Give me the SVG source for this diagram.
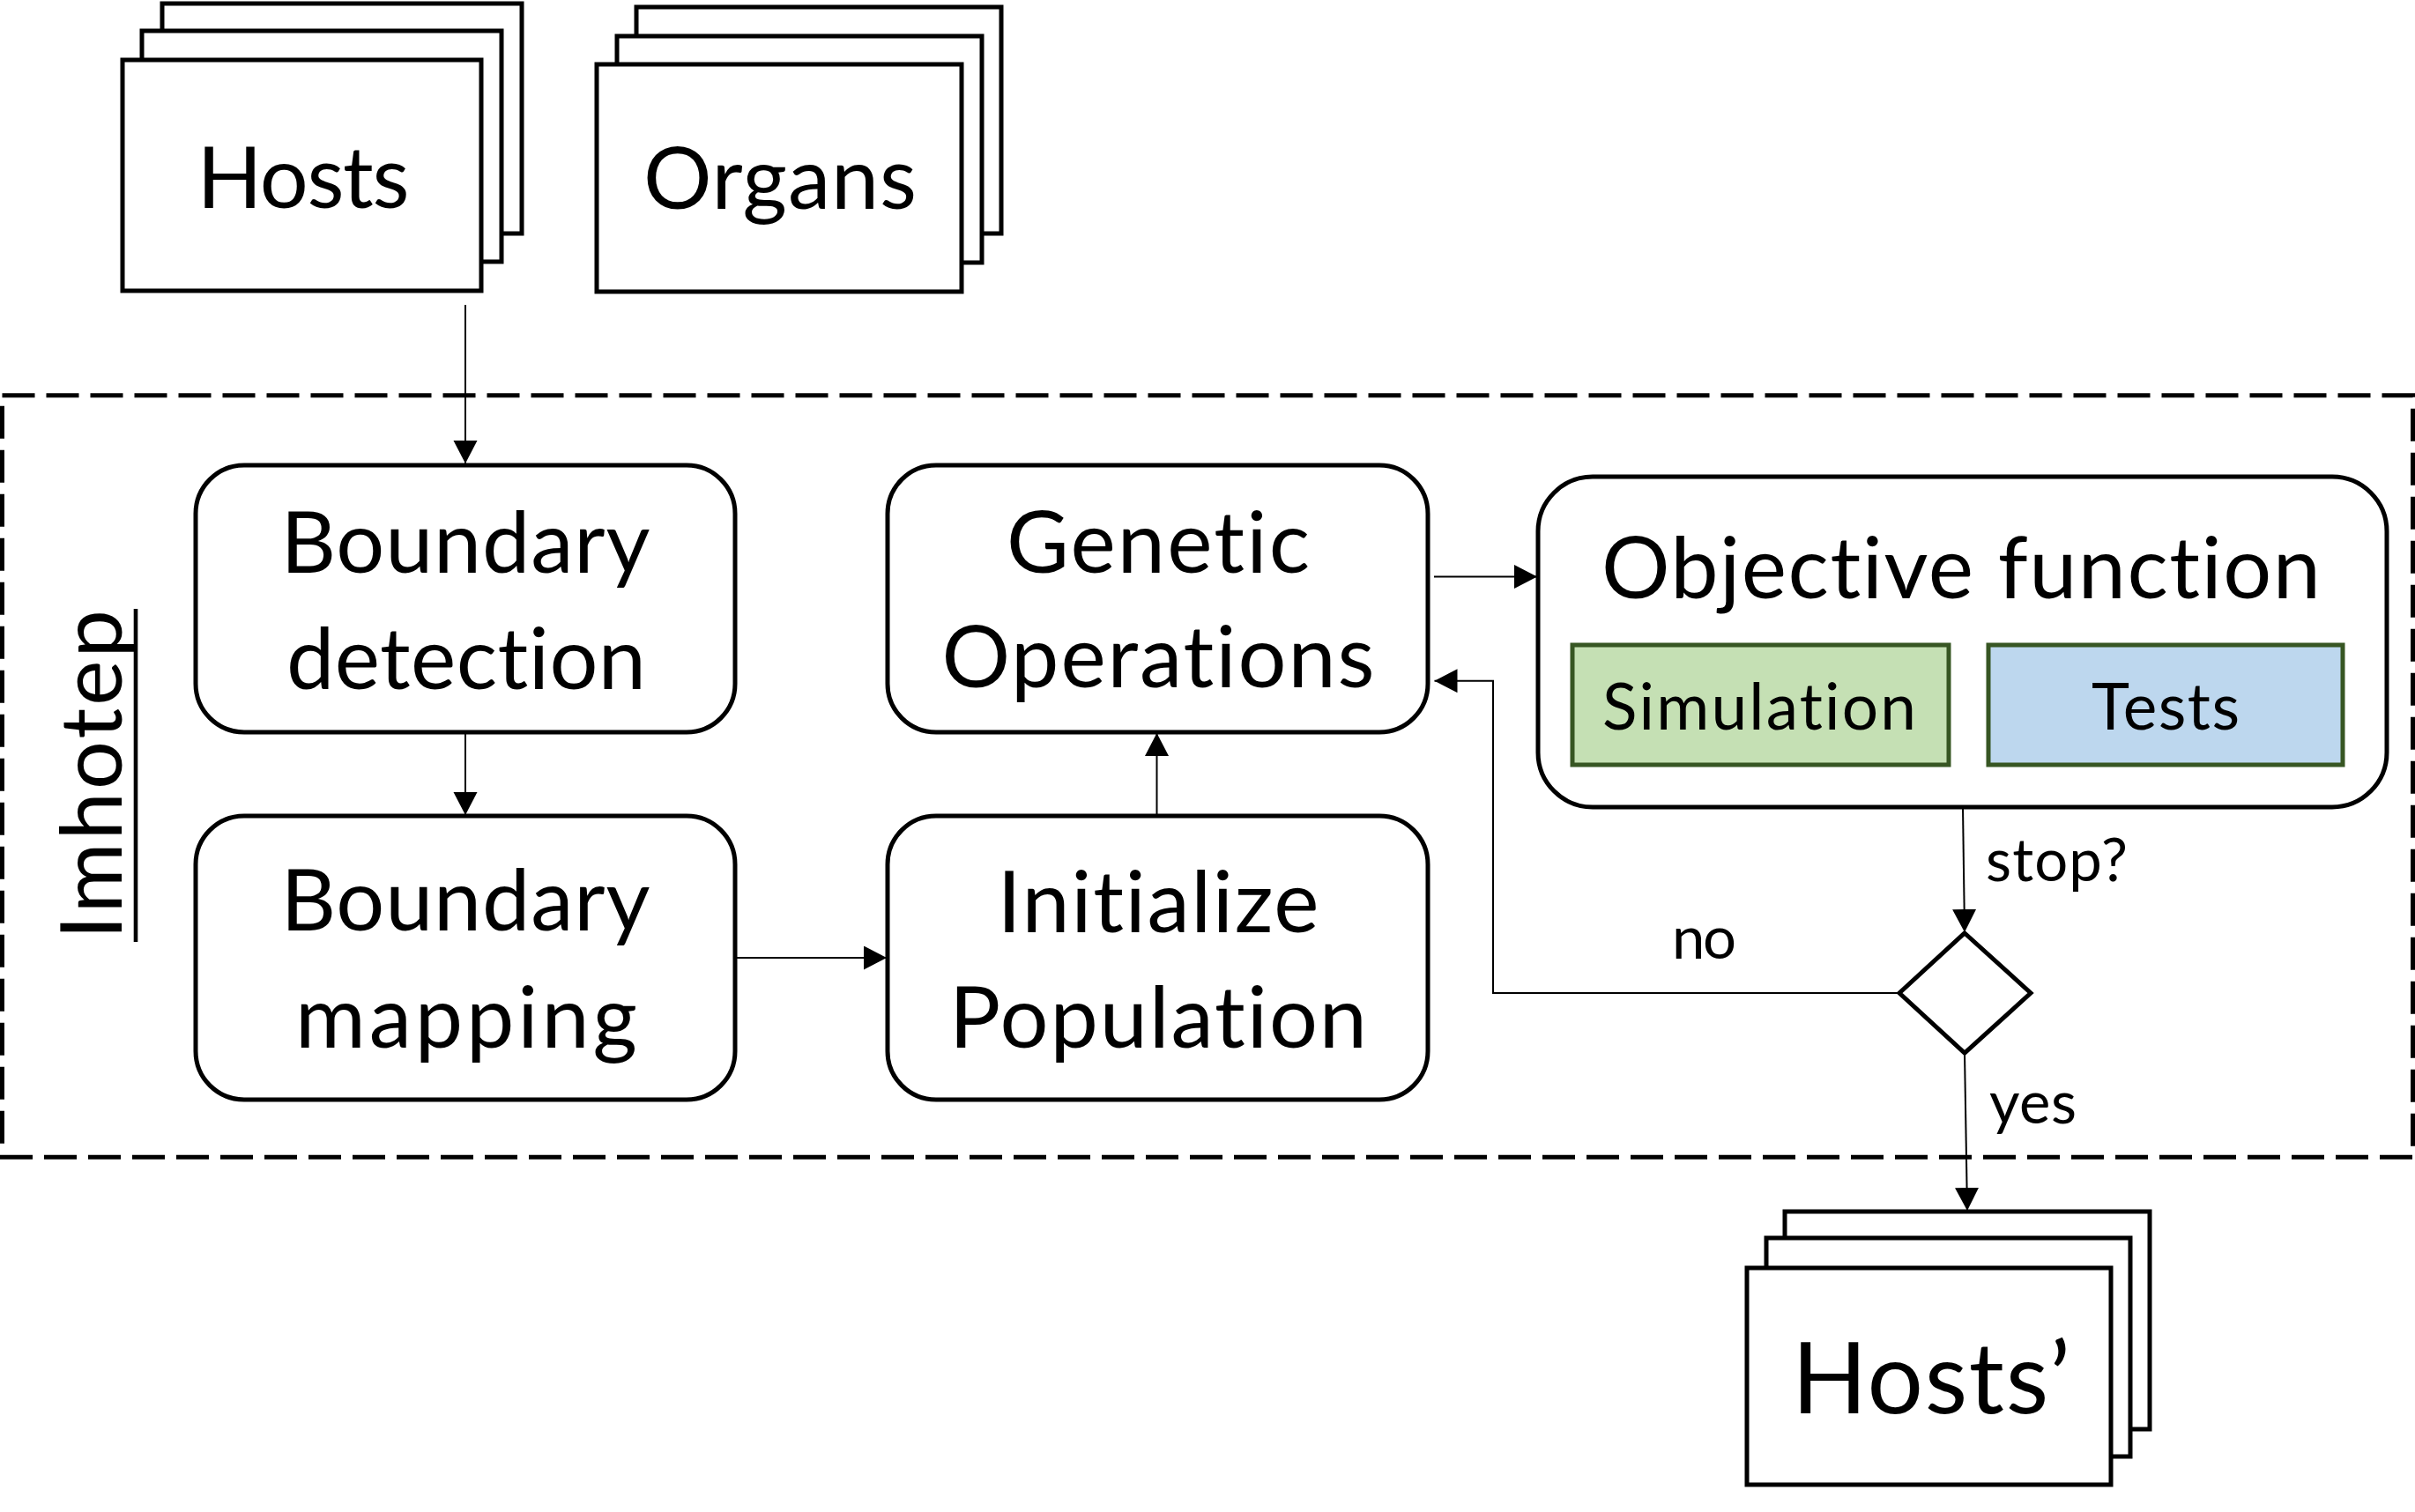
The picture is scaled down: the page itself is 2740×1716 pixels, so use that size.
<svg xmlns="http://www.w3.org/2000/svg" width="2740" height="1716" viewBox="0 0 2740 1716">
<style>
.bg{fill:#ffffff}
.doc{fill:#ffffff;stroke:#000;stroke-width:5}
.box{fill:#ffffff;stroke:#000;stroke-width:5}
.t{font-family:Lato,"Open Sans","Liberation Sans",sans-serif;fill:#000;text-anchor:middle;font-variant-ligatures:none;font-feature-settings:"liga" 0}
.big{font-size:97px}
.mid{font-size:73px}
.sm{font-size:67px}
.con{fill:none;stroke:#000;stroke-width:2}
.frame{fill:none;stroke:#000;stroke-width:5;stroke-dasharray:37 13}
.sim{fill:#C5E0B4;stroke:#375623;stroke-width:5}
.tst{fill:#BDD7EE;stroke:#375623;stroke-width:5}
</style>
<defs>
<marker id="arr" markerUnits="userSpaceOnUse" markerWidth="27" markerHeight="28" refX="26" refY="13.5" orient="auto">
<path d="M0,0 L26,13.5 L0,27 z" fill="#000"/>
</marker>
</defs>
<rect class="bg" x="0" y="0" width="2740" height="1716"/>

<g id="imhotep-frame">
<rect class="frame" x="2.5" y="448.7" width="2735" height="864.5"/>
<text class="t big" transform="translate(138,879) rotate(-90)" textLength="374">Imhotep</text>
<line x1="154" y1="691" x2="154" y2="1069" stroke="#000" stroke-width="4.6"/>
</g>

<g id="hosts">
<rect class="doc" x="184" y="4" width="408" height="261"/>
<rect class="doc" x="161" y="35" width="408" height="262"/>
<rect class="doc" x="139" y="68" width="407" height="262"/>
<text class="t big" x="344" y="236" textLength="241">Hosts</text>
</g>

<g id="organs">
<rect class="doc" x="722" y="8" width="414" height="257"/>
<rect class="doc" x="700" y="41" width="414" height="257"/>
<rect class="doc" x="677" y="73" width="414" height="258"/>
<text class="t big" x="885" y="237" textLength="310">Organs</text>
</g>

<g id="boundary-detection">
<rect class="box" x="222" y="528" width="612" height="303" rx="55" ry="55"/>
<text class="t big" x="528" y="649.5" textLength="419">Boundary</text>
<text class="t big" x="529" y="781.5" textLength="408">detection</text>
</g>

<g id="boundary-mapping">
<rect class="box" x="222" y="926" width="612" height="322" rx="55" ry="55"/>
<text class="t big" x="528" y="1056" textLength="419">Boundary</text>
<text class="t big" x="529" y="1189" textLength="388">mapping</text>
</g>

<g id="genetic-operations">
<rect class="box" x="1007" y="528" width="613" height="303" rx="55" ry="55"/>
<text class="t big" x="1314" y="650" textLength="344">Genetic</text>
<text class="t big" x="1314" y="780" textLength="491">Operations</text>
</g>

<g id="initialize-population">
<rect class="box" x="1007" y="926" width="613" height="322" rx="55" ry="55"/>
<text class="t big" x="1314" y="1058" textLength="365">Initialize</text>
<text class="t big" x="1314" y="1189" textLength="474">Population</text>
</g>

<g id="objective-function">
<rect class="box" x="1745" y="541" width="963" height="375" rx="62" ry="62"/>
<text class="t big" x="2225" y="679" textLength="816">Objective function</text>
<g id="simulation">
<rect class="sim" x="1784" y="732" width="427" height="136"/>
<text class="t mid" x="1996" y="828" textLength="356">Simulation</text>
</g>
<g id="tests">
<rect class="tst" x="2256" y="732" width="402" height="136"/>
<text class="t mid" x="2457" y="828" textLength="168">Tests</text>
</g>
</g>

<g id="stop-decision">
<polygon class="box" points="2229,1059 2304,1127 2229,1195 2155,1127"/>
</g>

<g id="hosts-out">
<rect class="doc" x="2025" y="1375" width="414" height="247"/>
<rect class="doc" x="2004" y="1405" width="413" height="248"/>
<rect class="doc" x="1982" y="1439" width="413" height="246"/>
<text class="t" style="font-size:112px" x="2191" y="1604" textLength="316">Hosts’</text>
</g>

<g id="connectors">
<line class="con" x1="528" y1="346" x2="528" y2="526" marker-end="url(#arr)"/>
<line class="con" x1="528" y1="831" x2="528" y2="925" marker-end="url(#arr)"/>
<line class="con" x1="834" y1="1087" x2="1006" y2="1087" marker-end="url(#arr)"/>
<line class="con" x1="1312.5" y1="926" x2="1312.5" y2="832" marker-end="url(#arr)"/>
<line class="con" x1="1627" y1="654.5" x2="1744" y2="654.5" marker-end="url(#arr)"/>
<line class="con" x1="2227" y1="916" x2="2229" y2="1058" marker-end="url(#arr)"/>
<line class="con" x1="2229" y1="1195" x2="2232" y2="1374" marker-end="url(#arr)"/>
<polyline class="con" points="2155,1127 1694,1127 1694,772.7 1627.5,772.7" marker-end="url(#arr)"/>
<text class="t sm" style="text-anchor:start" x="2253" y="1000" textLength="161">stop?</text>
<text class="t sm" style="text-anchor:start" x="1897" y="1088" textLength="73">no</text>
<text class="t sm" style="text-anchor:start" x="2257" y="1275" textLength="99">yes</text>
</g>
</svg>
